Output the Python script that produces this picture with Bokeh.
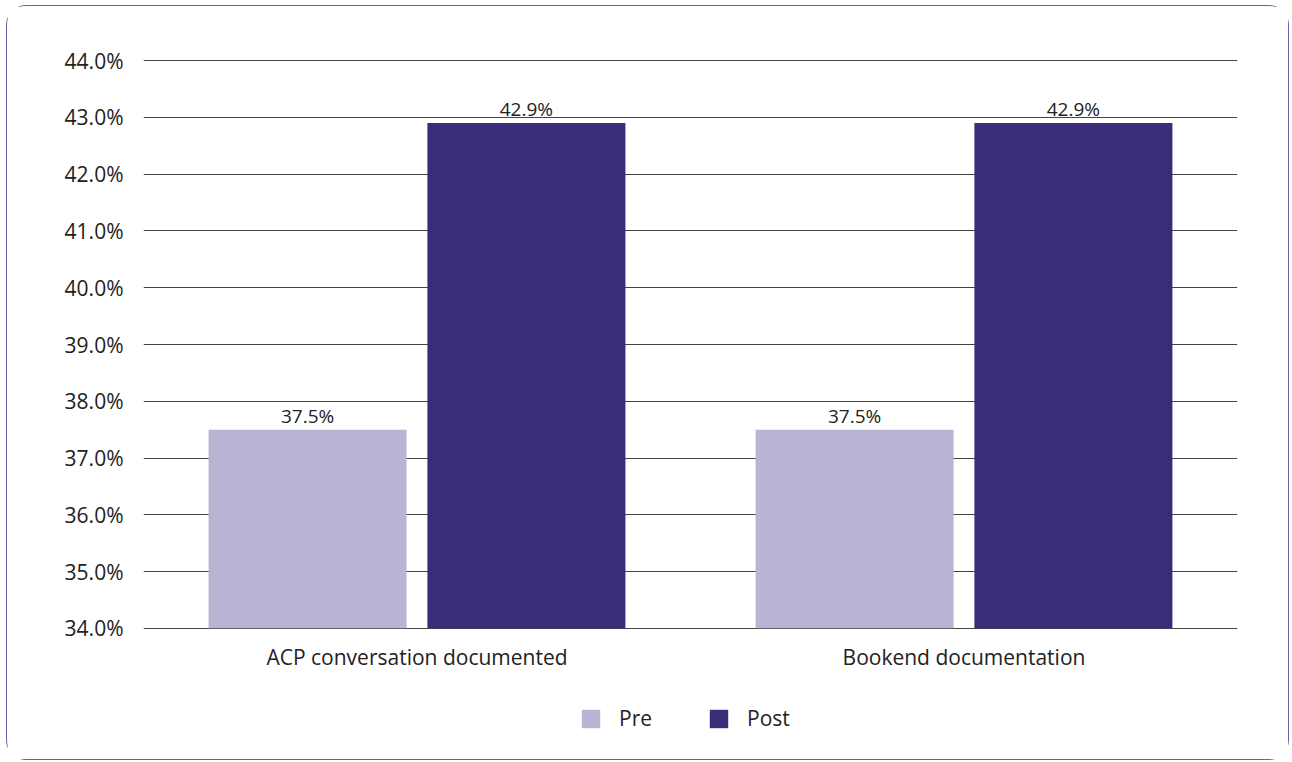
from bokeh.plotting import figure
from bokeh.layouts import column
from bokeh.models import (ColumnDataSource, FactorRange, LabelSet, Legend, LegendItem,
                          PrintfTickFormatter, SingleIntervalTicker, Range1d)
from bokeh.core.properties import value
from bokeh.transform import dodge
from bokeh.embed import file_html
from bokeh.resources import INLINE

categories = ["ACP conversation documented", "Bookend documentation"]
pre_values = [37.5, 37.5]
post_values = [42.9, 42.9]
series_names = ["Pre", "Post"]
colors = ["#b7b4d4", "#3a2c78"]

FONT = "Open Sans"
TXT = "#222222"

src = ColumnDataSource(dict(
    cat=categories,
    pre=pre_values,
    post=post_values,
    pre_lbl=[f"{v:.1f}%" for v in pre_values],
    post_lbl=[f"{v:.1f}%" for v in post_values],
))

p = figure(width=1281, height=680, x_range=FactorRange(*categories), y_range=(33.98, 44.02),
           output_backend="svg", toolbar_location=None,
           min_border_left=136, min_border_right=51, min_border_top=53, min_border_bottom=57)
p.outline_line_color = None
p.background_fill_color = "white"
p.border_fill_color = "white"
p.x_range.range_padding = 0

r_pre = p.vbar(x=dodge("cat", -0.2, range=p.x_range), top="pre", bottom=34, width=0.362,
               source=src, fill_color=colors[0], line_color=None)
r_post = p.vbar(x=dodge("cat", 0.2, range=p.x_range), top="post", bottom=34, width=0.362,
                source=src, fill_color=colors[1], line_color=None)

for col, off in (("pre", -0.2), ("post", 0.2)):
    lbl = LabelSet(x=dodge("cat", off, range=p.x_range), y=col, text=col + "_lbl", source=src,
                   text_align="center", text_baseline="bottom", y_offset=1,
                   text_font=value(FONT), text_font_size="19px", text_color=TXT)
    p.add_layout(lbl)

p.yaxis.ticker = SingleIntervalTicker(interval=1)
p.yaxis.formatter = PrintfTickFormatter(format="%.1f%%")
p.yaxis.axis_line_color = None
p.yaxis.major_tick_line_color = None
p.yaxis.minor_tick_line_color = None
p.yaxis.major_label_text_font = FONT
p.yaxis.major_label_text_font_size = "21px"
p.yaxis.major_label_text_color = TXT
p.yaxis.major_label_standoff = 14

p.xaxis.axis_line_color = None
p.xaxis.major_tick_line_color = None
p.xaxis.minor_tick_line_color = None
p.xaxis.major_label_text_font = FONT
p.xaxis.major_label_text_font_size = "21px"
p.xaxis.major_label_text_color = TXT
p.xaxis.major_label_standoff = 7

p.xgrid.grid_line_color = None
p.ygrid.grid_line_color = "#444444"
p.ygrid.grid_line_width = 1

# legend strip beneath the chart (same series, drawn fully outside its visible y range)
pl = figure(width=1281, height=73, output_backend="svg", toolbar_location=None,
            x_range=FactorRange(*categories), y_range=Range1d(100, 101),
            x_axis_location=None, y_axis_location=None,
            min_border_left=136, min_border_right=51, min_border_top=0, min_border_bottom=0)
pl.outline_line_color = None
pl.xgrid.grid_line_color = None
pl.ygrid.grid_line_color = None
l_pre = pl.vbar(x=dodge("cat", -0.2, range=pl.x_range), top="pre", bottom=34, width=0.362,
                source=src, fill_color=colors[0], line_color=None)
l_post = pl.vbar(x=dodge("cat", 0.2, range=pl.x_range), top="post", bottom=34, width=0.362,
                 source=src, fill_color=colors[1], line_color=None)

legend = Legend(items=[LegendItem(label=series_names[0], renderers=[l_pre], index=0),
                       LegendItem(label=series_names[1], renderers=[l_post], index=0)],
                orientation="horizontal", location=(436, 27),
                glyph_width=23, glyph_height=23, label_standoff=17, spacing=55,
                label_text_font=FONT, label_text_font_size="21px", label_text_color=TXT,
                border_line_color=None, background_fill_alpha=0, margin=0, padding=0)
pl.add_layout(legend, "center")

layout = column(p, pl, styles={"border": "1.5px solid #6a5fa8", "border-radius": "20px",
                               "margin-left": "6px", "margin-top": "5px"})

open("out.html", "w").write(file_html(layout, INLINE))
